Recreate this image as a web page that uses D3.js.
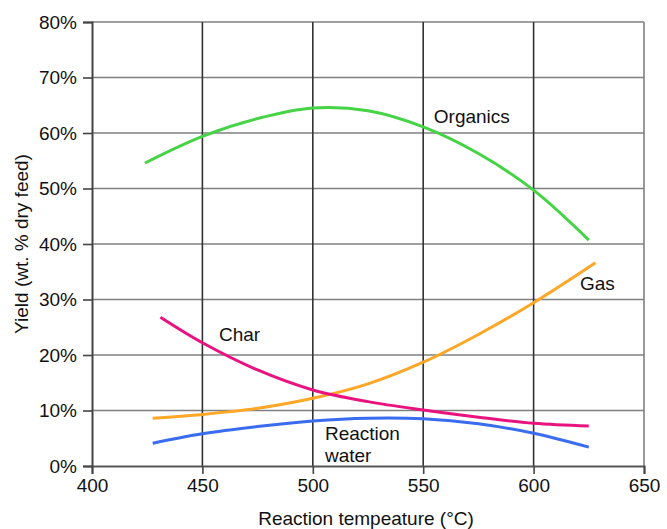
<!DOCTYPE html>
<html><head><meta charset="utf-8">
<script src="https://cdn.jsdelivr.net/npm/d3@7"></script>
<style>body{margin:0;background:#fff;} text{font-family:"Liberation Sans",Arial,sans-serif;}</style>
</head><body><svg id="c" width="667" height="529"></svg>
<script>
const xTicks = [400,450,500,550,600,650];
const yTicks = [0,10,20,30,40,50,60,70,80];
const organics = [[424,54.6],[450,59.4],[475,62.6],[500,64.5],[525,64.0],[550,61.1],[575,56.3],[600,49.7],[625,40.7]];
const gas      = [[427.5,8.6],[450,9.3],[475,10.4],[500,12.2],[525,14.8],[550,18.7],[575,23.7],[600,29.4],[628,36.6]];
const charS    = [[431,26.8],[450,22.2],[475,17.3],[500,13.7],[525,11.6],[550,10.1],[575,8.8],[600,7.7],[625,7.2]];
const water    = [[427.5,4.1],[450,5.8],[475,7.1],[500,8.1],[525,8.6],[550,8.5],[575,7.6],[600,5.9],[625,3.4]];
const labels = [
  {text:"Organics", x:554.8, y:61.8},
  {text:"Gas", x:621, y:31.7},
  {text:"Char", x:457.5, y:22.6},
  {text:"Reaction", x:505.5, y:4.7},
  {text:"water", x:505.5, y:0.75}
];
const series = [
  {data:organics, color:"#46d346"},
  {data:gas, color:"#ffa726"},
  {data:charS, color:"#e8137f"},
  {data:water, color:"#3a6cf0"}
];

const svg = d3.select("#c");
const x = d3.scaleLinear().domain([400,650]).range([92,644]);
const y = d3.scaleLinear().domain([0,80]).range([466,22]);
const fs = 19;

svg.append("g").selectAll("line").data(yTicks.filter(d=>d>0)).join("line")
  .attr("x1",x(400)).attr("x2",x(650)).attr("y1",d=>y(d)).attr("y2",d=>y(d))
  .attr("stroke","#808080").attr("stroke-width",1.6);
svg.append("line").attr("x1",x(650)).attr("x2",x(650)).attr("y1",y(80)).attr("y2",y(0))
  .attr("stroke","#808080").attr("stroke-width",1.6);
svg.append("g").selectAll("line").data(xTicks.filter(d=>d>400&&d<650)).join("line")
  .attr("x1",d=>x(d)).attr("x2",d=>x(d)).attr("y1",y(80)).attr("y2",y(0))
  .attr("stroke","#333").attr("stroke-width",1.6);

const xAxis = svg.append("g").attr("transform",`translate(0,${y(0)})`)
  .call(d3.axisBottom(x).tickValues(xTicks).tickSize(8).tickPadding(5).tickFormat(d3.format("d")));
const yAxis = svg.append("g").attr("transform",`translate(${x(400)},0)`)
  .call(d3.axisLeft(y).tickValues(yTicks).tickSize(9).tickPadding(6).tickFormat(d=>d+"%"));
[xAxis,yAxis].forEach(a=>{
  a.select(".domain").attr("stroke","#444").attr("stroke-width",2);
  a.selectAll(".tick line").attr("stroke","#444").attr("stroke-width",1.6);
  a.selectAll("text").attr("font-size",fs).attr("fill","#111").style("font-family","Liberation Sans, Arial, sans-serif");
});
xAxis.select(".domain").attr("stroke","#555");

const line = d3.line().x(d=>x(d[0])).y(d=>y(d[1])).curve(d3.curveCatmullRom.alpha(0.5));
svg.append("g").selectAll("path").data(series).join("path")
  .attr("d",d=>line(d.data)).attr("fill","none").attr("stroke",d=>d.color).attr("stroke-width",3);

svg.append("g").selectAll("text").data(labels).join("text")
  .attr("x",d=>x(d.x)).attr("y",d=>y(d.y)).attr("font-size",fs).attr("fill","#111").text(d=>d.text);

svg.append("text").attr("x",(x(400)+x(650))/2-2).attr("y",525).attr("text-anchor","middle")
  .attr("font-size",fs).attr("fill","#111").text("Reaction tempeature (°C)");
svg.append("text").attr("transform",`translate(28,${(y(0)+y(80))/2}) rotate(-90)`).attr("text-anchor","middle")
  .attr("font-size",fs).attr("fill","#111").text("Yield (wt. % dry feed)");
</script></body></html>
